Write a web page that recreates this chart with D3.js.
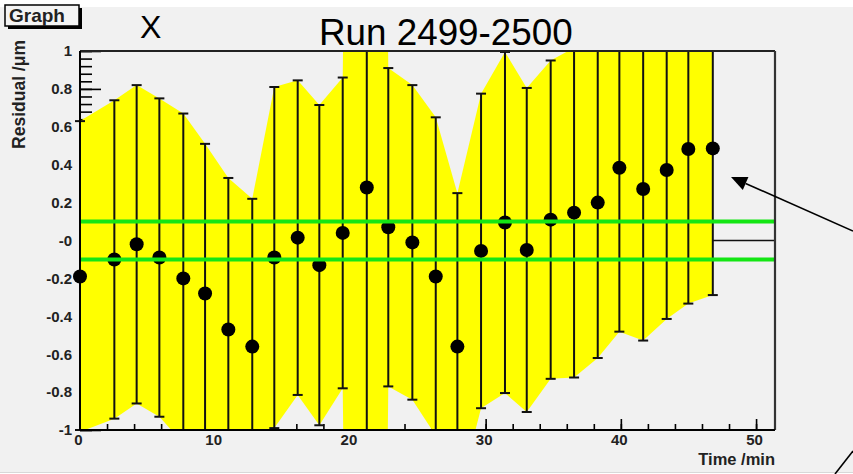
<!DOCTYPE html>
<html>
<head>
<meta charset="utf-8">
<script src="https://cdn.jsdelivr.net/npm/d3@7"></script>
<style>
  html, body { margin: 0; padding: 0; background: #ffffff; }
  svg { display: block; }
</style>
</head>
<body>
<svg id="chart" width="853" height="474"></svg>
<script>
// Residual per time slice, with symmetric uncertainties
const timeMin = [0, 2.54, 4.19, 5.87, 7.64, 9.25, 10.97, 12.74, 14.37, 16.10,
  17.70, 19.43, 21.21, 22.80, 24.58, 26.31, 27.91, 29.66, 31.43, 33.04,
  34.81, 36.54, 38.29, 39.89, 41.65, 43.39, 44.99, 46.80];
const residual = [-0.19, -0.10, -0.02, -0.09, -0.20, -0.28, -0.47, -0.56, -0.09, 0.015,
  -0.13, 0.04, 0.28, 0.07, -0.01, -0.19, -0.56, -0.055, 0.095, -0.05,
  0.11, 0.147, 0.20, 0.384, 0.272, 0.372, 0.483, 0.486];
const residualErr = [0.82, 0.84, 0.84, 0.84, 0.87, 0.79, 0.80, 0.78, 0.90, 0.83,
  0.845, 0.82, 12, 0.84, 0.83, 0.84, 0.81, 0.83, 0.90, 0.855,
  0.84, 0.87, 0.82, 0.865, 0.80, 0.786, 0.816, 0.774];

const yTickValues = [-1, -0.8, -0.6, -0.4, -0.2, 0, 0.2, 0.4, 0.6, 0.8, 1];
const yTickLabels = ["-1", "-0.8", "-0.6", "-0.4", "-0.2", "-0", "0.2", "0.4", "0.6", "0.8", "1"];
const xTickValues = [0, 10, 20, 30, 40, 50];
const xTickLabels = ["0", "10", "20", "30", "40", "50"];

const toleranceBand = [-0.1, 0.1];
const referenceLevel = 0;
const xDomain = [0, 51.4];
const yDomain = [-1, 1];

const points = timeMin.map((t, i) => ({ t, v: residual[i], e: residualErr[i] }));

const svg = d3.select("#chart");
const frame = { left: 80, right: 775, top: 51, bottom: 430 };

const x = d3.scaleLinear().domain(xDomain).range([frame.left, frame.right]);
const y = d3.scaleLinear().domain(yDomain).range([frame.bottom, frame.top]);

// canvas background
svg.append("rect").attr("x", 0).attr("y", 0).attr("width", 853).attr("height", 474).attr("fill", "#ffffff");
svg.append("rect").attr("x", 0).attr("y", 7).attr("width", 853).attr("height", 465.5).attr("fill", "#f1f1f1");
svg.append("line").attr("x1", 0).attr("x2", 853).attr("y1", 472.5).attr("y2", 472.5)
  .attr("stroke", "#d8d8d8").attr("stroke-width", 1);

const defs = svg.append("defs");
defs.append("clipPath").attr("id", "plotClip")
  .append("rect")
  .attr("x", frame.left).attr("y", frame.top)
  .attr("width", frame.right - frame.left).attr("height", frame.bottom - frame.top);

const labelFont = "'Liberation Sans', Arial, Helvetica, sans-serif";

// minor ticks (drawn beneath the band)
const yMinor = d3.range(-1, 1.0001, 0.04);
const xMinor = d3.range(0, 51, 2);

svg.append("g").attr("transform", `translate(${frame.left},0)`)
  .call(d3.axisLeft(y).tickValues(yMinor).tickSize(-12).tickFormat(""))
  .call(g => g.select(".domain").remove())
  .call(g => g.selectAll("line").attr("stroke", "#000").attr("stroke-width", 1.6));

svg.append("g").attr("transform", `translate(0,${frame.bottom})`)
  .call(d3.axisBottom(x).tickValues(xMinor).tickSize(-6).tickFormat(""))
  .call(g => g.select(".domain").remove())
  .call(g => g.selectAll("line").attr("stroke", "#000").attr("stroke-width", 1.6));

// major ticks with labels
const yAxisG = svg.append("g").attr("transform", `translate(${frame.left},0)`)
  .call(d3.axisLeft(y).tickValues(yTickValues).tickSize(-21).tickPadding(8)
    .tickFormat((d, i) => yTickLabels[i]))
  .call(g => g.select(".domain").remove());
yAxisG.selectAll("line").attr("stroke", "#000").attr("stroke-width", 1.6);
yAxisG.selectAll("text")
  .attr("font-family", labelFont).attr("font-weight", "bold")
  .attr("font-size", 15).attr("fill", "#222");

const xAxisG = svg.append("g").attr("transform", `translate(0,${frame.bottom})`)
  .call(d3.axisBottom(x).tickValues(xTickValues).tickSize(-11).tickPadding(4.5)
    .tickFormat((d, i) => xTickLabels[i]))
  .call(g => g.select(".domain").remove());
xAxisG.selectAll("line").attr("stroke", "#000").attr("stroke-width", 1.6);
xAxisG.selectAll("text")
  .attr("font-family", labelFont).attr("font-weight", "bold")
  .attr("font-size", 15).attr("fill", "#222").attr("dx", -2);

// plot contents, clipped to the frame
const plot = svg.append("g").attr("clip-path", "url(#plotClip)");

const band = d3.area()
  .x(d => x(d.t))
  .y0(d => y(d.v - d.e))
  .y1(d => y(d.v + d.e));

plot.append("path").datum(points)
  .attr("d", band)
  .attr("fill", "#ffff00");

// error bars, ends clamped to the frame
const clampY = v => Math.max(yDomain[0], Math.min(yDomain[1], v));
const capHalf = 5;
const bars = svg.append("g").attr("stroke", "#111").attr("stroke-width", 2);
points.forEach(p => {
  const lo = clampY(p.v - p.e), hi = clampY(p.v + p.e);
  bars.append("line").attr("x1", x(p.t)).attr("x2", x(p.t)).attr("y1", y(lo)).attr("y2", y(hi));
  bars.append("line").attr("x1", x(p.t) - capHalf).attr("x2", x(p.t) + capHalf).attr("y1", y(hi)).attr("y2", y(hi));
  bars.append("line").attr("x1", x(p.t) - capHalf).attr("x2", x(p.t) + capHalf).attr("y1", y(lo)).attr("y2", y(lo));
});

// markers
svg.append("g").selectAll("circle").data(points).join("circle")
  .attr("cx", d => x(d.t)).attr("cy", d => y(d.v)).attr("r", 7)
  .attr("fill", "#000");

// reference level past the last measurement
svg.append("line")
  .attr("x1", x(timeMin[timeMin.length - 1])).attr("x2", x(xDomain[1]))
  .attr("y1", y(referenceLevel)).attr("y2", y(referenceLevel))
  .attr("stroke", "#111").attr("stroke-width", 1.6);

// tolerance band limits
svg.append("g").selectAll("line").data(toleranceBand).join("line")
  .attr("x1", x(xDomain[0])).attr("x2", x(xDomain[1]))
  .attr("y1", d => y(d)).attr("y2", d => y(d))
  .attr("stroke", "#14e614").attr("stroke-width", 4);

// frame
svg.append("line").attr("x1", frame.left).attr("x2", frame.right).attr("y1", frame.top).attr("y2", frame.top)
  .attr("stroke", "#222").attr("stroke-width", 2);
svg.append("line").attr("x1", frame.right).attr("x2", frame.right).attr("y1", frame.top).attr("y2", frame.bottom)
  .attr("stroke", "#333").attr("stroke-width", 2.2);
svg.append("line").attr("x1", frame.left).attr("x2", frame.left).attr("y1", frame.top).attr("y2", frame.bottom)
  .attr("stroke", "#000").attr("stroke-width", 2);
svg.append("line").attr("x1", frame.left).attr("x2", frame.right).attr("y1", frame.bottom).attr("y2", frame.bottom)
  .attr("stroke", "#000").attr("stroke-width", 2);

// axis titles
svg.append("text")
  .attr("x", frame.right).attr("y", 465)
  .attr("text-anchor", "end")
  .attr("font-family", labelFont).attr("font-weight", "bold").attr("font-size", 16.5)
  .attr("fill", "#222")
  .text("Time /min");

svg.append("text")
  .attr("transform", "translate(25,40) rotate(-90)")
  .attr("text-anchor", "end")
  .attr("font-family", labelFont).attr("font-weight", "bold").attr("font-size", 17.5)
  .attr("fill", "#222")
  .text("Residual /μm");

// titles
svg.append("text").attr("x", 140).attr("y", 38)
  .attr("font-family", labelFont).attr("font-size", 32).attr("fill", "#000")
  .text("X");
svg.append("text").attr("x", 319).attr("y", 45)
  .attr("font-family", labelFont).attr("font-size", 36.8).attr("fill", "#000")
  .text("Run 2499-2500");

// "Graph" name box with shadow
svg.append("rect").attr("x", 8).attr("y", 8).attr("width", 74).attr("height", 21).attr("fill", "#000");
svg.append("rect").attr("x", 5).attr("y", 5).attr("width", 74).attr("height", 21)
  .attr("fill", "#f4f4f4").attr("stroke", "#000").attr("stroke-width", 1.5);
svg.append("text").attr("x", 9).attr("y", 22)
  .attr("font-family", labelFont).attr("font-weight", "bold").attr("font-size", 19).attr("fill", "#222")
  .text("Graph");

// annotation arrows
const tip = [731, 177], tail = [853, 231];
const ang = Math.atan2(tail[1] - tip[1], tail[0] - tip[0]);
const headLen = 16, headW = 7;
const base = [tip[0] + headLen * Math.cos(ang), tip[1] + headLen * Math.sin(ang)];
svg.append("line").attr("x1", tail[0]).attr("y1", tail[1]).attr("x2", base[0]).attr("y2", base[1])
  .attr("stroke", "#000").attr("stroke-width", 1.6);
svg.append("polygon")
  .attr("points", [
    tip,
    [base[0] - headW * Math.sin(ang), base[1] + headW * Math.cos(ang)],
    [base[0] + headW * Math.sin(ang), base[1] - headW * Math.cos(ang)]
  ].map(p => p.join(",")).join(" "))
  .attr("fill", "#000");
svg.append("line").attr("x1", 835).attr("y1", 474).attr("x2", 853).attr("y2", 451)
  .attr("stroke", "#000").attr("stroke-width", 1.6);
</script>
</body>
</html>
